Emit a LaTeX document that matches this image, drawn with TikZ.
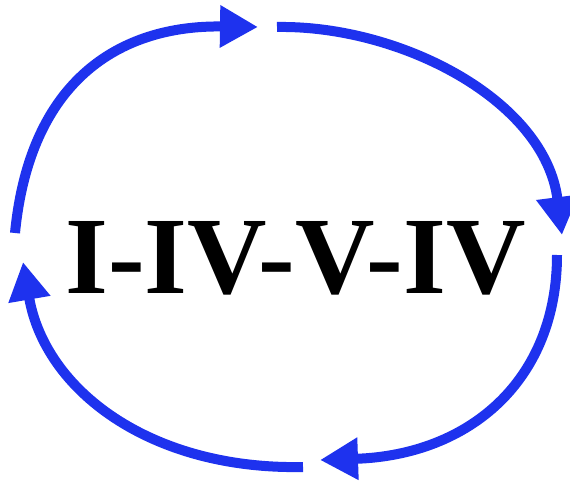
\documentclass[tikz,border=0pt]{standalone}
\usepackage{fontspec}
\setmainfont{Liberation Serif}
\usepackage{tikz}
\usetikzlibrary{arrows.meta}
\definecolor{cycleblue}{RGB}{30,50,238}

\begin{document}
\begin{tikzpicture}[
  x=1pt, y=1pt,
  loop/.style={draw=cycleblue, line width=10pt, -{Triangle[length=38pt, width=40pt]}},
  chord/.style={inner sep=0pt, anchor=base, font=\bfseries\fontsize{110}{110}\selectfont}
]
\useasboundingbox (0,0) rectangle (570,480);
\node[chord] (prog) at (295.5,187) {I-IV-V-IV};

% arc ends
\coordinate (ls) at (15,247);
\coordinate (te) at (258,453);
\coordinate (ts) at (277,453);
\coordinate (re) at (562,245);
\coordinate (rs) at (557,225);
\coordinate (be) at (320,20);
\coordinate (bs) at (303,13);
\coordinate (le) at (23,218);

\draw[loop] (ls) .. controls (30,400) and (120,455) .. (te);
\draw[loop] (ts) .. controls (400,455) and (545,380) .. (re);
\draw[loop] (rs) .. controls (557,100) and (470,25) .. (be);
\draw[loop] (bs) .. controls (150,10) and (45,90) .. (le);
\end{tikzpicture}
\end{document}
